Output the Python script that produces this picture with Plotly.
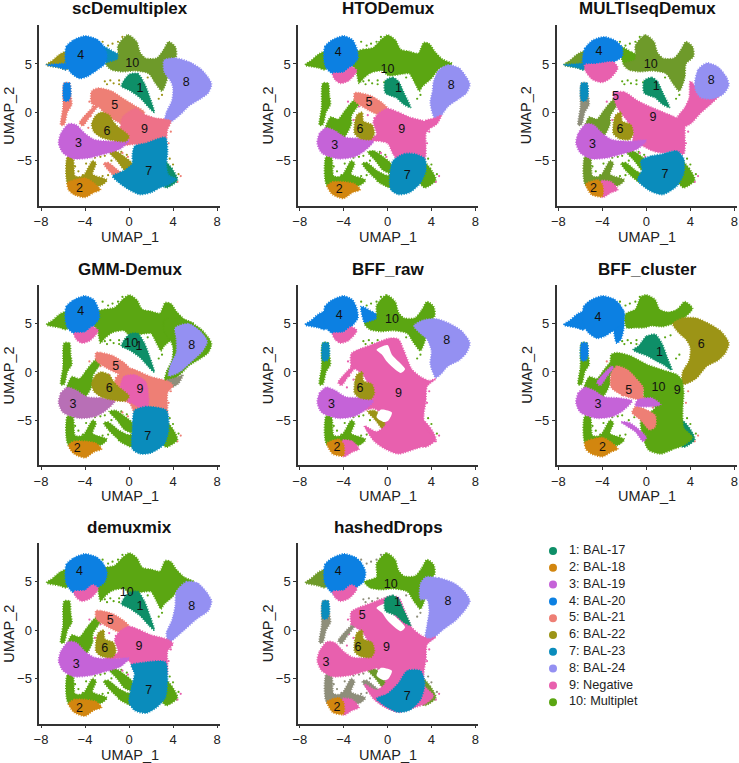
import plotly.graph_objects as go

NAMES = ["1: BAL-17","2: BAL-18","3: BAL-19","4: BAL-20","5: BAL-21","6: BAL-22","7: BAL-23","8: BAL-24","9: Negative","10: Multiplet"]
COL = {1:"#0E8F68",2:"#D2860F",3:"#C563D8",4:"#0C80E2",5:"#EE7F75",6:"#9C9416",7:"#0A8CBC",8:"#9490F2",9:"#E860AE",10:"#5BA612",0:"#FFFFFF",11:"#6E9A2A",12:"#8E8E7A",13:"#EE7188",14:"#B86FB6"}

# shared outlines (UMAP_1, UMAP_2)
WING=[(-7.5,4.9),(-6.9,5.4),(-6.3,6),(-5.6,6.3),(-5.4,5),(-5.7,4.4),(-6.3,4.6)]
WING_LOW=[(-7.5,4.9),(-6.6,5),(-5.6,5),(-5.7,4.4),(-6.3,4.6)]
STEM=[(-5.9,3),(-5.4,3),(-5.3,1.8),(-5.2,0.8),(-5.6,0),(-5.9,-1.3),(-6.2,-1.3),(-6,0.5)]
STEM_TOP=[(-5.9,3),(-5.4,3),(-5.3,1.8),(-5.5,1.2),(-5.9,1.2)]
FINGER=[(-5.7,-2),(-5.2,-0.5),(-4.5,-0.7),(-3.8,0.3),(-3,1.3),(-2.4,1.2),(-2.8,0.5),(-3.3,-0.4),(-3.3,-1.2),(-4,-2.6),(-5,-2.3)]
THIN3=[(-3,0.8),(-2.6,1),(-3.6,-0.5),(-4.2,-1.4),(-4.5,-1.1)]
LOWFAN=[(-5.6,-4.6),(-5.1,-4.7),(-4.9,-6.6),(-4.2,-6.6),(-3.3,-5),(-3,-5.3),(-3.3,-6.4),(-2,-7),(-2.6,-7.6),(-5.5,-7.6)]
FAN_C=[(-1.8,-4.1),(-1.2,-4),(-0.4,-4.6),(0.3,-5.3),(0.3,-6.3),(-0.4,-6),(-1.1,-5)]
FAN_D=[(-2.3,-5.3),(-1.9,-5.2),(-1,-6),(0.3,-6.9),(0.3,-7.4),(-0.7,-7.2),(-1.8,-6.1)]
TIP7=[(3.2,-5),(3.9,-5.8),(4.4,-7),(3.4,-7.8),(2.8,-7)]
BLOB4=[(-5.8,5.5),(-5.7,6.8),(-5,7.5),(-4,7.9),(-3,7.6),(-2.4,7),(-2,6),(-2.2,5),(-3,4.3),(-3.8,3.7),(-4.5,3.5),(-5.2,4),(-5.7,4.8)]
BLOB4_HTO=[(-5.8,5.5),(-5.7,6.8),(-5,7.5),(-4,7.9),(-3.2,7.5),(-2.8,6.6),(-2.7,5.6),(-3.3,4.7),(-4,4.1),(-5,4),(-5.6,4.6)]
UNDER4=[(-5,4),(-4,4.1),(-3.3,4.7),(-2.8,4.3),(-3.5,3.3),(-4.3,3),(-4.8,3.4)]
BLOB4_MULTI=[(-5.8,5.2),(-5.6,6.6),(-4.8,7.5),(-3.8,7.8),(-2.8,7.4),(-2.2,6.7),(-2.2,5.8),(-3,5.2),(-4.5,5),(-5.6,4.9)]
UNDER4_MULTI=[(-5.6,4.9),(-4.5,5),(-3,5.2),(-2.6,4.6),(-3.2,3.6),(-4,3.1),(-4.9,3.4),(-5.5,4.2)]
RIBBON=[(-2.4,6.8),(-1.3,6.2),(-0.2,5.4),(-0.3,4.4),(-1.4,4.5),(-2.1,5.1)]
TOP_WIDE=[(-2.8,6.3),(-2.2,6.5),(-1.3,6.7),(-0.5,7.6),(0,8),(0.7,7.5),(1.2,6.5),(2,6.3),(2.8,6.1),(3.3,7.2),(3.8,7.1),(4.3,6.3),(5,5.5),(5.9,5),(4.7,4.5),(4,3.5),(3.2,2.7),(2.9,2.2),(2.5,3),(2,4),(1.5,4),(0.1,3.8),(-0.5,4.3),(-1.5,4.1),(-2.2,3.5),(-2.6,3),(-2.8,4),(-3.2,5)]
TOP_NARROW=[(-1,6.9),(-0.1,8),(0.7,7.3),(1,6.2),(1.5,5.6),(2.5,5.6),(3.1,6.4),(3.6,7.3),(4.2,6.8),(4.3,5.8),(3.6,5),(3.5,3.6),(3,2.2),(2.4,3),(1.8,4),(0.5,4.3),(-0.6,4.2),(-1.6,4.4),(-2.1,5),(-1,5.5)]
LOBE_FULL=[(3.2,5.4),(4.3,5.6),(5.5,5.2),(6.5,4.5),(7.2,3.6),(7.5,2.9),(7.2,2),(6.5,1.4),(5.5,0.7),(4.7,-0.2),(3.8,-1),(3.2,-1.2),(3.4,0),(3.9,1.2),(4,2.5),(3.8,3.2),(3.2,4.2)]
LOBE_HTO=[(4.7,4.4),(5.5,4.9),(6.5,4.6),(7.2,3.6),(7.5,2.9),(7.2,2),(6.5,1.4),(5.5,0.6),(4.9,-0.3),(4.3,-0.6),(3.9,1),(4.1,2.2),(4.2,3.2)]
NECK_HTO=[(3.4,-0.9),(4.3,-0.6),(4.9,-0.3),(4.5,-1.2),(3.8,-1.6)]
LOBE_MULTI=[(4.4,3),(4.7,4.4),(5.5,5.1),(6.5,4.7),(7.3,3.6),(7.5,2.8),(7,1.9),(6,1.4),(5,1.5),(4.5,2.2)]
PINK_LOBE=[(4,3.2),(5,2),(6.8,2),(6,1),(5,0),(4,-1.2),(3,-1.6),(2.8,-0.6),(3.5,0.5),(3.9,1.5)]
LOBE_GMM=[(4.2,4.6),(5.4,5),(6.5,4.2),(7.1,3.2),(6.7,2.2),(5.6,1),(4.6,0),(3.6,-0.4),(3.8,0.8),(4.3,2),(4.3,3.5)]
LOBE_DEMUX=[(4.3,4),(5.2,5),(6.2,4.9),(7,4),(7.5,3),(7.2,2),(6.2,1.2),(5.2,0.2),(4.2,-0.8),(3.6,-1.3),(3.4,-0.3),(3.9,1),(4.2,2.5)]
LOBE_RAW=[(2.4,4.8),(3.3,5.4),(4.5,5.5),(5.7,5),(6.8,4.2),(7.5,3),(7.2,2),(6.5,1.2),(5.5,0.6),(4.8,-0.3),(4.4,-0.6),(3.9,0.8),(4,2.2),(3.6,3.4),(3,4)]
LOBE_HASH=[(3.5,5.5),(4.7,5.4),(6,4.9),(7,4),(7.5,3),(7,2),(6.2,1),(5,0),(4,-1),(3.4,-1.3),(3.6,0.5),(3.8,2),(3.6,3.2),(3,3.2),(3,4.8)]
WEDGE=[(0,3.9),(0.8,4),(1.4,3),(1.9,1.5),(2.3,0),(1.8,0.5),(1,1.5),(0,2.3),(-0.7,2.7)]
WEDGE_HTO=[(-0.2,3.3),(0.5,3.6),(1,3.2),(1.5,2),(2.1,0.5),(1.5,0.8),(0.8,1.5),(-0.2,2)]
STRIP=[(-3.4,2.2),(-2.8,2.5),(-1.6,2.2),(-0.5,1.4),(0.5,0.7),(1.4,0),(0.5,-1.2),(-1,-1),(-2.2,-0.1),(-2.8,0.6),(-3.4,0.9)]
CENTER=[(-0.6,-0.5),(0.6,0.4),(1.4,-0.2),(2.4,-0.6),(3.8,-0.9),(3.5,-1.8),(3.3,-3),(1.5,-3.4),(0.5,-3.3),(-1,-3.4),(-1.5,-2.5),(-0.8,-1.5)]
OLIVE=[(-3.4,-1.2),(-3,-0.3),(-2.5,0),(-1.8,-0.3),(-1.4,-1),(-1,-1.5),(0,-2.5),(-0.3,-3),(-1.5,-2.9),(-2.5,-2.6),(-3.2,-2)]
BLOB3=[(-6.4,-3.2),(-6.2,-2.2),(-5.5,-1.2),(-4.8,-1.3),(-4,-2.2),(-3.2,-2.8),(-1.5,-3),(0,-2.9),(-0.8,-3.8),(-2.5,-4.4),(-3.5,-4.7),(-5,-4.8),(-6,-4.2)]
BLOB7=[(0.5,-3.5),(1.5,-3.2),(3.3,-2.6),(3.5,-4),(3.4,-5.5),(3.6,-6.5),(4.3,-6.9),(3.6,-7.5),(2.8,-7.8),(2,-8.3),(1,-8.5),(0,-8),(-1,-7.2),(-1.5,-6.6),(-1,-6.3),(-0.4,-6),(0.3,-5.3),(0.3,-4.5)]
BLOB2=[(-5.6,-7.3),(-5,-7),(-4,-6.8),(-3.2,-7.3),(-2.6,-8),(-3.2,-8.3),(-4,-8.8),(-5,-8.5),(-5.5,-8)]
STRIP_HTO=[(-3,2),(-2.5,2),(-1.5,1.7),(-0.5,1),(0,0.4),(-0.8,-0.2),(-1.7,0.2),(-2.6,0.8),(-3,1.2)]
CENTER_HTO=[(0,0.4),(1,0),(2,-0.5),(3.6,-1),(4,-1.4),(3.5,-2.2),(3.5,-3.5),(3.4,-4.8),(2.5,-4.3),(1.5,-4.5),(1,-5),(0.5,-4.3),(0,-3.2),(-1.3,-3),(-1.8,-3.6),(-2.5,-3.8),(-3,-3.5),(-2,-2.8),(-1,-2.3),(-1.3,-1),(-0.9,-0.2)]
CORE_GMM=[(-0.5,-0.5),(0.5,-0.3),(1.5,-1),(1.8,-3),(1.6,-4),(0.5,-3.4),(-0.8,-2.5)]
OLIVE_HTO=[(-3,-1.2),(-2.8,-0.3),(-2.3,0),(-2.2,-0.9),(-1.4,-1.3),(-1.2,-2.2),(-1.5,-2.8),(-2.5,-2.7),(-3,-2.2)]
BLOB3_HTO=[(-6.4,-3.2),(-6.2,-2.2),(-5.6,-1.6),(-4.8,-1.9),(-3.8,-2.6),(-2.5,-2.7),(-1.3,-3),(-2,-3.9),(-3,-4.6),(-4.5,-4.8),(-6,-4.2)]
BLOB7_HTO=[(0.5,-5),(1.5,-4.3),(2.5,-4.3),(3.4,-4.8),(3.5,-6),(3,-7.3),(2,-8.3),(1,-8.5),(0.3,-8),(0.2,-6.5)]
LEFT7=[(0.3,-7.8),(-0.7,-7.3),(-1,-7),(0.3,-6.5)]
BLOB2_HTO=[(-5.5,-7.6),(-5,-7.2),(-3.9,-7.2),(-3,-7.4),(-2.5,-8),(-3.2,-8.3),(-4,-8.9),(-5,-8.5)]
BLOB2_LEFT=[(-5.5,-7.4),(-4.4,-7),(-4,-7.5),(-4,-8.7),(-5,-8.5)]
BLOB2_RIGHT=[(-4.1,-7.1),(-3.2,-7.2),(-2.6,-8),(-3.2,-8.3),(-4,-8.8)]
BLOB7_DEMUX=[(0.2,-3.6),(1,-3.4),(3.3,-3.3),(3.5,-5),(3.3,-7),(2.5,-8),(1.5,-8.6),(0.5,-8.3),(0,-7.5),(0.2,-6),(0.5,-4.5)]
BLOB7_GMM=[(0.5,-4),(1.5,-3.6),(3.4,-4),(3.6,-6),(3.2,-7.5),(2,-8.4),(1,-8.5),(0.3,-8),(0.3,-6)]
BLOB7_MULTI=[(-0.5,-5),(0.5,-4.5),(1.5,-4.3),(2.8,-4),(3.4,-4.8),(3.4,-6.3),(2.8,-7.6),(1.5,-8.5),(0.3,-8.1),(-0.8,-7),(-0.4,-6)]
BLOB7_HASH=[(-1,-7.1),(0,-6.6),(1,-5.5),(1.8,-4.2),(3,-4.2),(3.4,-5.5),(3,-7.2),(2,-8.3),(1,-8.5),(0,-8)]
BODY=[(-3.3,1.9),(-2.7,2.3),(-1.5,2.8),(0.2,3.5),(1,3.4),(1.5,2.2),(2.2,0.3),(3,-0.5),(3.8,-0.9),(4.4,-0.7),(3.6,-1.5),(3.5,-3),(3.3,-4.5),(3.4,-5.8),(4.2,-6.8),(3.5,-7.6),(2.5,-8),(1,-8.5),(-0.2,-8),(-1.2,-7.2),(-2.1,-5.6),(-1,-6.2),(-0.2,-5.5),(-0.4,-4.5),(-1.2,-3.8),(-2.5,-4),(-3.3,-3),(-2,-2.8),(-1.8,-1.2),(-2.3,-0.2),(-3.3,0.7)]
BODY_MULTI=[(-3,2),(-2,2.1),(-0.8,1.2),(0.5,0.5),(2.4,-0.4),(3.4,-1),(3.5,-2.5),(3.4,-4.3),(2.5,-4),(1.5,-4.2),(0.6,-4),(-0.5,-3.4),(-1.2,-3.2),(-1.2,-2),(-1.8,-0.8),(-2.6,0.4)]
GAP_BODY=[(-1,2.3),(0,2.8),(0.4,1.8),(1.6,0.3),(1.2,-0.1),(0,1),(-0.5,1.8)]
GAP_LOW=[(-0.6,-3.9),(0.4,-4.2),(0.1,-5),(-0.3,-5.2),(-1,-4.7)]
CL10=[(-3.2,1.8),(-2.7,2),(-1.5,1.7),(0,0.8),(1.5,0.2),(2.8,-0.3),(3.2,-0.8),(3.4,-2),(3.3,-4),(3.4,-5.8),(4.2,-6.8),(3.4,-7.6),(2.5,-8),(1.3,-8.5),(0.2,-8.1),(-0.3,-6.8),(-0.5,-5),(0.8,-3.7),(-0.2,-3),(-0.3,-1.7),(-1.3,-0.4),(-2.5,0.2),(-3.2,0.8)]
CL5=[(-3.2,-0.2),(-2.7,0.6),(-1.7,0.2),(-1,-0.6),(-0.3,-1.6),(-0.3,-2.5),(0,-3),(-1,-2.8),(-2.2,-2.4),(-3.2,-1.6)]
CL5_LOW=[(-1,-3.6),(-0.5,-3.7),(0.8,-4.5),(0.8,-5.7),(0.3,-6),(-0.5,-5),(-1.3,-4.2)]
CL3_TAIL=[(-2.3,-5.2),(-1.5,-5.3),(0,-6.8),(-0.3,-7.2),(-1,-6.2)]
CL3_BAND=[(-1,-3.5),(-0.8,-2.9),(0.5,-2.7),(1.3,-3.4),(0.3,-3.6)]
CL_WEDGE=[(-0.7,2.7),(0,3.7),(0.8,3.9),(1.4,3),(1.9,1.5),(2.3,0.2),(1.5,0.8),(0.8,1.2),(0.2,1.6),(-1.2,2.3)]
CL_RAY=[(-3,5),(-2.5,6.6),(-2.1,6.4),(-2,5),(-2.3,3.4),(-2.7,3)]
CL_LOBE=[(2.4,5),(3.3,5.6),(4.5,5.6),(5.7,5),(6.8,4.2),(7.5,3),(7.2,2),(6.5,1.2),(5.5,0.6),(4.5,-0.7),(3.3,-1.3),(3.3,0),(3.9,1.2),(4,2.5),(3.6,3.4),(3,4)]
TOP_CL=[(-1.9,6),(-1,6.5),(-0.5,7.8),(0,8),(0.8,7.5),(1.2,6.5),(2,6.2),(2.8,6.5),(3.5,7.3),(4.2,6.6),(3.4,5.6),(2.4,5),(1.4,4.7),(0.5,4.8),(-0.2,4.6),(-1,4.6),(-1.8,4.6)]

# loose dots at the fringes of the cloud
SPECK_G_X=[-2.4,-1.9,-1.5,-1,-0.6,-2.2,-1.7,-0.9,1.7,2.2,2.7,3,-5.2,-4.9,-4.6,-5.5,-3.9,-3.5,-3.1,-2.6,-2.2,-1.6,-1.1,-4.2,-3.8,-3.4,-2.4,-1.9,-0.7,-0.2,3.7,4,4.5,-2,-1.4,-0.9,-0.3,0.3]
SPECK_G_Y=[7.3,6.9,7.1,7.3,7.8,3.2,3.3,3.3,3.6,3.8,1.4,1.8,-4.8,-5.6,-6.1,-6,-5.3,-5.8,-4.7,-4.6,-4.5,-5,-4.7,-6.5,-6.5,-6.9,-6.6,-6.5,-4.1,-4.4,-4.8,-5.4,-6.4,2.9,3,2.9,3.1,2.9]
SPECK_P_X=[-3.6,-3.3,-3.1,-2.6,-2.1,-1.6,-1.1,-0.6,-0.1,0.4,-0.6,-0.1,0.6,1.1,1.6,2.1,-3.5,-3.7,-2.2,-1.8,-1.2,-0.8,3.6,3.8,4.4,4.7]
SPECK_P_Y=[1.1,0.6,-0.8,0.6,0.7,0.9,0.4,0.1,-0.2,-0.5,-4.2,-4.6,-3.7,-3.8,-3.6,-3.9,-0.4,-1.6,-2.4,-0.3,-0.6,-1.1,-3.2,-2,-7.2,-6.6]

BASE_GREEN=[(WING,10),(STEM,10),(FINGER,10),(LOWFAN,10),(FAN_C,10),(FAN_D,10),(TIP7,10)]

LAYERS_SCD=[(WING,6),(WING_LOW,4),(STEM,5),(STEM_TOP,4),(THIN3,5),(LOWFAN,6),(FAN_C,6),(FAN_D,5),(TIP7,1),(RIBBON,7),(TOP_NARROW,11),(BLOB4,4),(LOBE_FULL,8),(WEDGE,1),(STRIP,5),(CENTER,13),(BLOB3,3),(OLIVE,6),(BLOB7,7),(BLOB2,2)]
LAYERS_HTO=BASE_GREEN+[(TOP_WIDE,10),(BLOB4_HTO,4),(UNDER4,9),(LOBE_HTO,8),(NECK_HTO,9),(WEDGE_HTO,1),(STRIP_HTO,5),(CENTER_HTO,9),(BLOB3_HTO,3),(OLIVE_HTO,6),(LEFT7,10),(BLOB7_HTO,7),(BLOB2_HTO,2)]
LAYERS_MULTI=[(WING,11),(WING_LOW,7),(STEM,12),(STEM_TOP,7),(FINGER,11),(LOWFAN,11),(FAN_C,10),(FAN_D,10),(TIP7,10),(RIBBON,10),(TOP_NARROW,11),(BLOB4_MULTI,4),(UNDER4_MULTI,9),(PINK_LOBE,9),(LOBE_MULTI,8),(WEDGE_HTO,1),(BODY_MULTI,9),(BLOB3,3),(OLIVE_HTO,6),(BLOB7_MULTI,7),(BLOB2_RIGHT,9),(BLOB2_LEFT,2)]
LAYERS_GMM=BASE_GREEN+[(TOP_WIDE,10),(BLOB4_HTO,4),(UNDER4,9),(LOBE_FULL,10),(LOBE_GMM,8),(NECK_HTO,12),(WEDGE,1),(STRIP_HTO,5),(CENTER_HTO,5),(CORE_GMM,9),(BLOB3_HTO,14),(OLIVE,6),(LEFT7,10),(BLOB7_GMM,7),(BLOB2_HTO,2)]
LAYERS_RAW=[(WING,4),(STEM,10),(STEM_TOP,7),(THIN3,9),(LOWFAN,10),(FAN_C,6),(TIP7,9),(RIBBON,4),(TOP_NARROW,10),(BLOB4_HTO,4),(UNDER4,9),(LOBE_RAW,8),(BODY,9),(GAP_BODY,0),(GAP_LOW,0),(BLOB3_HTO,3),(OLIVE_HTO,6),(BLOB2_RIGHT,9),(BLOB2_LEFT,2)]
LAYERS_CL=[(WING,4),(WING_LOW,4),(STEM,10),(STEM_TOP,4),(FINGER,10),(THIN3,3),(LOWFAN,10),(TIP7,1),(CL_RAY,4),(TOP_CL,10),(BLOB4,4),(CL_LOBE,6),(CL_WEDGE,1),(CL10,10),(CL5,5),(CL5_LOW,5),(CL3_TAIL,3),(BLOB3_HTO,3),(CL3_BAND,3),(BLOB2,2)]
LAYERS_DEMUX=BASE_GREEN+[(TOP_WIDE,10),(BLOB4,4),(UNDER4,9),(LOBE_DEMUX,8),(WEDGE,1),(STRIP_HTO,5),(CENTER_HTO,9),(BLOB3,3),(OLIVE_HTO,6),(LEFT7,10),(BLOB7_DEMUX,7),(BLOB2_HTO,2)]
LAYERS_HASH=[(WING,11),(STEM,12),(STEM_TOP,7),(THIN3,12),(LOWFAN,12),(FAN_C,11),(FAN_D,12),(TIP7,11),(TOP_NARROW,10),(BLOB4,4),(UNDER4,9),(LOBE_HASH,8),(BODY,9),(GAP_BODY,0),(GAP_LOW,0),(WEDGE_HTO,1),(BLOB3,9),(OLIVE_HTO,6),(BLOB7_HASH,7),(BLOB2_RIGHT,9),(BLOB2_LEFT,2)]

LAB_SCD=[(1,1,2.4),(2,-4.5,-7.9),(3,-4.6,-3.3),(4,-4.4,5.8),(5,-1.3,0.7),(6,-2,-2),(7,1.8,-6.2),(8,5.2,3),(9,1.4,-1.8),(10,0.3,5)]
LAB_HTO=[(1,1,2.4),(2,-4.4,-8),(3,-4.8,-3.5),(4,-4.5,6.1),(5,-1.7,1),(6,-2.5,-1.8),(7,1.8,-6.6),(8,5.8,2.7),(9,1.3,-1.8),(10,0,4.4)]
LAB_MULTI=[(1,0.9,2.6),(2,-4.8,-7.9),(3,-4.9,-3.4),(4,-4.3,6.3),(5,-2.8,1.6),(6,-2.4,-1.8),(7,1.7,-6.5),(8,5.9,3.2),(9,0.6,-0.6),(10,0.4,4.9)]
LAB_GMM=[(1,0.9,2.6),(2,-4.7,-8),(3,-5.1,-3.4),(4,-4.4,6.2),(5,-1.2,0.5),(6,-1.8,-1.8),(7,1.7,-6.7),(8,5.7,2.7),(9,1,-1.9),(10,0.2,2.9)]
LAB_RAW=[(2,-4.6,-7.9),(3,-5.1,-3.4),(4,-4.4,5.8),(6,-2.5,-1.8),(8,5.4,3.2),(9,1,-2.3),(10,0.4,5.4)]
LAB_CL=[(1,1.2,2),(2,-4,-7.9),(3,-4.4,-3.4),(4,-4.4,5.6),(5,-1.6,-2),(6,5,2.8),(9,2.8,-2),(10,1.1,-1.6)]
LAB_DEMUX=[(1,1,2.4),(2,-4.5,-8.2),(3,-4.8,-3.6),(4,-4.5,6),(5,-1.7,1),(6,-2.2,-1.9),(7,1.8,-6.3),(8,5.7,2.4),(9,0.9,-1.7),(10,-0.2,3.9)]
LAB_HASH=[(1,0.9,2.8),(2,-4.6,-8),(3,-5.6,-3.4),(4,-4.5,6),(5,-2.3,1.5),(6,-2.7,-1.8),(7,1.8,-6.9),(8,5.5,2.9),(9,-0.1,-1.8),(10,0.3,4.7)]

TITLES=["scDemultiplex","HTODemux","MULTIseqDemux","GMM-Demux","BFF_raw","BFF_cluster","demuxmix","hashedDrops"]
ALL_LAYERS=[LAYERS_SCD,LAYERS_HTO,LAYERS_MULTI,LAYERS_GMM,LAYERS_RAW,LAYERS_CL,LAYERS_DEMUX,LAYERS_HASH]
ALL_LABELS=[LAB_SCD,LAB_HTO,LAB_MULTI,LAB_GMM,LAB_RAW,LAB_CL,LAB_DEMUX,LAB_HASH]
SPECK_G_CL=[6,10,10,10,10,10,10,12]
SPECK_P_CL=[5,9,9,5,9,5,9,9]
XTICKS=[-8,-4,0,4,8]
YTICKS=[-5,0,5]

W,H=739,763
COLS=[(39.3,220),(298,478.3),(556.7,737.3)]
ROWS=[(25,206),(285,465.3),(543,723.7)]
XRANGE=[-8.155,8.27]
YRANGE=[-9.69,9.03]
FONT="Liberation Sans, Arial, sans-serif"
INK="#222222"

fig=go.Figure()
layout={}
ann=[]
for i,title in enumerate(TITLES):
    r,c=divmod(i,3)
    k="" if i==0 else str(i+1)
    xa,ya="x"+k,"y"+k
    l,rt=COLS[c]; t,b=ROWS[r]
    common=dict(automargin=False,showgrid=False,zeroline=False,showline=True,linecolor="#333333",linewidth=1.5,ticks="outside",ticklen=3,tickwidth=1,tickcolor="#333333",tickfont=dict(family=FONT,size=13,color=INK))
    layout["xaxis"+k]=dict(domain=[l/W,rt/W],range=XRANGE,tickvals=XTICKS,anchor=ya,**common)
    layout["yaxis"+k]=dict(domain=[1-b/H,1-t/H],range=YRANGE,tickvals=YTICKS,anchor=xa,**common)
    fig.add_trace(go.Scatter(x=SPECK_G_X,y=SPECK_G_Y,mode="markers",marker=dict(size=2.2,color=COL[SPECK_G_CL[i]]),xaxis=xa,yaxis=ya,showlegend=False,hoverinfo="skip"))
    fig.add_trace(go.Scatter(x=SPECK_P_X,y=SPECK_P_Y,mode="markers",marker=dict(size=2.2,color=COL[SPECK_P_CL[i]]),xaxis=xa,yaxis=ya,showlegend=False,hoverinfo="skip"))
    for poly,cl in ALL_LAYERS[i]:
        px=[p[0] for p in poly]+[poly[0][0]]
        py=[p[1] for p in poly]+[poly[0][1]]
        col=COL[cl]
        line=dict(color=col,width=1.8,dash="1px,1.5px",shape="spline",smoothing=0.7) if cl else dict(color=col,width=0,shape="spline",smoothing=0.7)
        fig.add_trace(go.Scatter(x=px,y=py,mode="lines",fill="toself",fillcolor=col,line=line,xaxis=xa,yaxis=ya,showlegend=False,hoverinfo="skip"))
    labs=ALL_LABELS[i]
    fig.add_trace(go.Scatter(x=[a[1] for a in labs],y=[a[2] for a in labs],text=[str(a[0]) for a in labs],mode="text",textfont=dict(family=FONT,size=12.5,color="#111111"),xaxis=xa,yaxis=ya,showlegend=False,hoverinfo="skip"))
    ann.append(dict(text="<b>"+title+"</b>",x=(l+rt)/2/W,y=1-(t-16)/H,xref="paper",yref="paper",showarrow=False,xanchor="center",yanchor="middle",font=dict(family=FONT,size=17,color="#111111")))
    ann.append(dict(text="UMAP_1",x=(l+rt)/2/W,y=1-(b+31)/H,xref="paper",yref="paper",showarrow=False,xanchor="center",yanchor="middle",font=dict(family=FONT,size=14.5,color=INK)))
    ann.append(dict(text="UMAP_2",x=(l-30)/W,y=1-(t+b)/2/H,xref="paper",yref="paper",showarrow=False,textangle=-90,xanchor="center",yanchor="middle",font=dict(family=FONT,size=14.5,color=INK)))

# legend block in its own hidden axes (pixel-like units)
LEG_Y=[551,567.8,584.6,601.4,618.2,635,651.8,668.6,685.4,702.2]
layout["xaxis9"]=dict(domain=[540/W,720/W],range=[540,720],visible=False,anchor="y9")
layout["yaxis9"]=dict(domain=[1-720/H,1-535/H],range=[720,535],visible=False,anchor="x9")
fig.add_trace(go.Scatter(x=[553]*10,y=LEG_Y,mode="markers",marker=dict(size=8,color=[COL[j+1] for j in range(10)]),xaxis="x9",yaxis="y9",showlegend=False,hoverinfo="skip"))
fig.add_trace(go.Scatter(x=[569]*10,y=LEG_Y,text=NAMES,mode="text",textposition="middle right",textfont=dict(family=FONT,size=12.7,color=INK),xaxis="x9",yaxis="y9",showlegend=False,hoverinfo="skip"))

fig.update_layout(width=W,height=H,margin=dict(l=0,r=0,t=0,b=0),paper_bgcolor="white",plot_bgcolor="white",annotations=ann,**layout)
fig.write_html("out.html",post_script="document.body.style.margin='0';",config={"displayModeBar":False})
